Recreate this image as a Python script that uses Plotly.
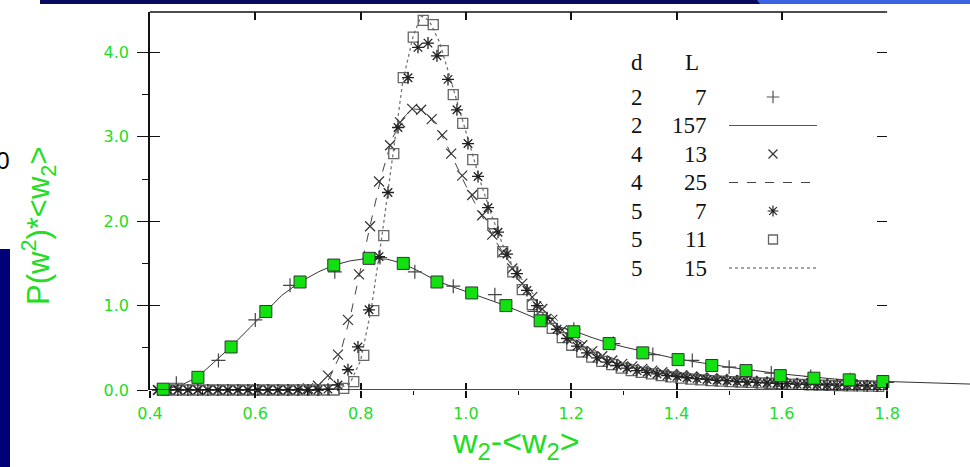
import plotly.graph_objects as go

# ---------------- data ----------------
# highlighted green squares (overlay on the d=2 curve)
green_x = [0.425, 0.491, 0.554, 0.620, 0.685, 0.749, 0.816, 0.881, 0.945, 1.011, 1.076,
           1.141, 1.205, 1.272, 1.336, 1.403, 1.467, 1.532, 1.597, 1.661, 1.728, 1.792]
green_y = [0.01, 0.15, 0.51, 0.93, 1.28, 1.48, 1.56, 1.50, 1.28, 1.15, 1.00,
           0.82, 0.69, 0.55, 0.44, 0.36, 0.29, 0.23, 0.17, 0.14, 0.12, 0.10]

# d=2, L=7  (+)
d2L7_x = [0.45, 0.53, 0.60, 0.666, 0.751, 0.837, 0.903, 0.976, 1.055, 1.13, 1.205,
          1.28, 1.355, 1.43, 1.50, 1.58, 1.655, 1.73, 1.80]
d2L7_y = [0.08, 0.35, 0.83, 1.24, 1.40, 1.57, 1.40, 1.23, 1.13, 0.93, 0.72,
          0.55, 0.42, 0.35, 0.27, 0.20, 0.16, 0.12, 0.09]

# d=2, L=157 (solid line)
d2L157_x = [0.40, 0.43, 0.46, 0.49, 0.52, 0.555, 0.59, 0.62, 0.65, 0.685, 0.72, 0.75, 0.78,
            0.815, 0.85, 0.88, 0.91, 0.945, 0.98, 1.01, 1.04, 1.075, 1.11, 1.14, 1.17, 1.205,
            1.24, 1.27, 1.30, 1.335, 1.37, 1.40, 1.45, 1.50, 1.55, 1.60, 1.65, 1.70, 1.75,
            1.80, 1.85, 1.90, 1.96]
d2L157_y = [0.0, 0.01, 0.06, 0.15, 0.32, 0.52, 0.74, 0.93, 1.12, 1.28, 1.40, 1.48, 1.53,
            1.56, 1.55, 1.50, 1.41, 1.29, 1.21, 1.15, 1.08, 1.00, 0.91, 0.83, 0.76, 0.70,
            0.62, 0.56, 0.51, 0.46, 0.41, 0.37, 0.32, 0.27, 0.23, 0.19, 0.16, 0.13, 0.11,
            0.10, 0.09, 0.08, 0.07]

# d=4, L=13 (x)
d4L13_x = [0.415, 0.434, 0.453, 0.472, 0.491, 0.510, 0.529, 0.548, 0.567, 0.586, 0.605,
           0.624, 0.643, 0.662, 0.681, 0.700, 0.719, 0.738, 0.757, 0.776, 0.797, 0.818,
           0.835, 0.856, 0.875, 0.898, 0.915, 0.935, 0.955, 0.972, 0.993, 1.012, 1.031,
           1.050, 1.069, 1.088, 1.107, 1.126, 1.145, 1.164, 1.183, 1.202, 1.221, 1.240,
           1.259, 1.278, 1.297, 1.316, 1.335, 1.354, 1.373, 1.392, 1.411, 1.430, 1.449,
           1.468, 1.487, 1.506, 1.525, 1.544, 1.563, 1.582, 1.601, 1.620, 1.639, 1.658,
           1.677, 1.696, 1.715, 1.734, 1.753, 1.772, 1.791]
d4L13_y = [0.0, 0.0, 0.0, 0.0, 0.0, 0.0, 0.0, 0.0, 0.0, 0.0, 0.0,
           0.0, 0.0, 0.0, 0.005, 0.02, 0.05, 0.17, 0.42, 0.83, 1.37, 1.94,
           2.47, 2.90, 3.17, 3.33, 3.32, 3.21, 3.02, 2.80, 2.54, 2.31, 2.07,
           1.84, 1.63, 1.44, 1.26, 1.10, 0.96, 0.83, 0.71, 0.61, 0.53, 0.46,
           0.40, 0.35, 0.31, 0.28, 0.25, 0.23, 0.21, 0.19, 0.175, 0.16, 0.15,
           0.14, 0.13, 0.12, 0.115, 0.11, 0.10, 0.095, 0.09, 0.085, 0.08, 0.075,
           0.07, 0.068, 0.065, 0.06, 0.058, 0.055, 0.05]

# d=4, L=25 (dashed line)
d4L25_x = [0.40, 0.60, 0.68, 0.72, 0.74, 0.76, 0.78, 0.80, 0.82, 0.84, 0.86, 0.88, 0.90,
           0.92, 0.94, 0.96, 0.98, 1.00, 1.02, 1.04, 1.06, 1.08, 1.10, 1.13, 1.16, 1.20,
           1.25, 1.30, 1.35, 1.40, 1.50, 1.60, 1.70, 1.80]
d4L25_y = [0.0, 0.0, 0.01, 0.05, 0.13, 0.40, 0.86, 1.45, 2.00, 2.55, 2.98, 3.22, 3.33,
           3.32, 3.16, 2.95, 2.68, 2.42, 2.18, 1.95, 1.73, 1.54, 1.36, 1.12, 0.91, 0.66,
           0.45, 0.32, 0.25, 0.20, 0.14, 0.10, 0.07, 0.05]

# d=5, L=7 (asterisk)
d5L7_x = [0.415, 0.434, 0.453, 0.472, 0.491, 0.510, 0.529, 0.548, 0.567, 0.586, 0.605,
          0.624, 0.643, 0.662, 0.681, 0.700, 0.719, 0.738, 0.757, 0.776, 0.795, 0.816,
          0.835, 0.852, 0.871, 0.890, 0.909, 0.928, 0.945, 0.966, 0.983, 1.004, 1.023,
          1.042, 1.061, 1.078, 1.097, 1.116, 1.135, 1.154, 1.173, 1.192, 1.211, 1.230,
          1.249, 1.268, 1.287, 1.306, 1.325, 1.344, 1.363, 1.382, 1.401, 1.420, 1.439,
          1.458, 1.477, 1.496, 1.515, 1.534, 1.553, 1.572, 1.591, 1.610, 1.629, 1.648,
          1.667, 1.686, 1.705, 1.724, 1.743, 1.762, 1.781]
d5L7_y = [0.0, 0.0, 0.0, 0.0, 0.0, 0.0, 0.0, 0.0, 0.0, 0.0, 0.0,
          0.0, 0.0, 0.0, 0.0, 0.0, 0.0, 0.01, 0.06, 0.24, 0.51, 0.95,
          1.58, 2.34, 3.11, 3.70, 4.06, 4.11, 3.96, 3.68, 3.32, 2.92, 2.53,
          2.16, 1.87, 1.61, 1.38, 1.18, 1.00, 0.85, 0.72, 0.61, 0.52, 0.44,
          0.38, 0.33, 0.29, 0.26, 0.23, 0.21, 0.19, 0.17, 0.16, 0.145, 0.135,
          0.125, 0.115, 0.11, 0.10, 0.095, 0.09, 0.085, 0.08, 0.075, 0.07, 0.068,
          0.065, 0.06, 0.058, 0.055, 0.052, 0.05, 0.048]

# d=5, L=11 (open square)
d5L11_x = [0.430, 0.449, 0.468, 0.486, 0.505, 0.524, 0.543, 0.562, 0.580, 0.599, 0.618,
           0.637, 0.656, 0.674, 0.693, 0.712, 0.731, 0.750, 0.768, 0.787, 0.806, 0.825,
           0.844, 0.863, 0.881, 0.900, 0.919, 0.938, 0.957, 0.976, 0.994, 1.013, 1.032,
           1.051, 1.070, 1.089, 1.107, 1.126, 1.145, 1.164, 1.183, 1.201, 1.220, 1.239,
           1.258, 1.277, 1.295, 1.314, 1.333, 1.352, 1.371, 1.389, 1.408, 1.427, 1.446,
           1.465, 1.483, 1.502, 1.521, 1.540, 1.559, 1.577, 1.596, 1.615, 1.634, 1.653,
           1.671, 1.690, 1.709, 1.728, 1.747, 1.765, 1.784]
d5L11_y = [0.0, 0.0, 0.0, 0.0, 0.0, 0.0, 0.0, 0.0, 0.0, 0.0, 0.0,
           0.0, 0.0, 0.0, 0.0, 0.0, 0.0, 0.0, 0.02, 0.10, 0.41, 0.94,
           1.83, 2.80, 3.70, 4.18, 4.38, 4.33, 4.02, 3.50, 3.16, 2.73, 2.33,
           1.97, 1.64, 1.40, 1.19, 1.01, 0.86, 0.73, 0.62, 0.53, 0.45, 0.39,
           0.34, 0.30, 0.26, 0.23, 0.21, 0.19, 0.17, 0.155, 0.14, 0.13, 0.12,
           0.11, 0.105, 0.10, 0.095, 0.09, 0.085, 0.08, 0.075, 0.07, 0.066, 0.062,
           0.058, 0.055, 0.052, 0.05, 0.048, 0.045, 0.043]

# d=5, L=15 (dotted line)
d5L15_x = [0.40, 0.70, 0.76, 0.78, 0.80, 0.82, 0.84, 0.86, 0.88, 0.90, 0.915, 0.93, 0.95,
           0.97, 0.99, 1.01, 1.03, 1.05, 1.07, 1.09, 1.12, 1.15, 1.20, 1.25, 1.30, 1.40,
           1.50, 1.60, 1.70, 1.80]
d5L15_y = [0.0, 0.0, 0.02, 0.08, 0.35, 0.95, 1.80, 2.75, 3.65, 4.20, 4.43, 4.38, 4.12,
           3.70, 3.28, 2.85, 2.42, 2.05, 1.72, 1.45, 1.12, 0.87, 0.56, 0.39, 0.29, 0.17,
           0.11, 0.08, 0.06, 0.045]

x_major = [0.4, 0.6, 0.8, 1.0, 1.2, 1.4, 1.6, 1.8]
x_minor = [0.5, 0.7, 0.9, 1.1, 1.3, 1.5, 1.7]
x_top = [0.6, 0.8, 1.0, 1.2, 1.4, 1.6]
y_major = [0, 1, 2, 3, 4]
y_minor = [0.5, 1.5, 2.5, 3.5]
y_right = [1, 2, 3, 4]

leg_d = ["2", "2", "4", "4", "5", "5", "5"]
leg_L = ["7", "157", "13", "25", "7", "11", "15"]

# ---------------- layout geometry ----------------
W, H = 970, 467
ML, MR, MT, MB = 150, 0, 12, 77
PW, PH = W - ML - MR, H - MT - MB
XR = [0.4, 0.4 + PW / 526.5]
YR = [0, PH / 84.4]


def px_x(px):
    return (px - ML) / PW


def px_y(py):
    return (H - MB - py) / PH


GREEN = "#22DD22"
INK = "#111111"

fig = go.Figure()

# lines first
fig.add_trace(go.Scatter(x=d2L157_x, y=d2L157_y, mode="lines",
                         line=dict(color="#333333", width=1)))
fig.add_trace(go.Scatter(x=d4L25_x, y=d4L25_y, mode="lines",
                         line=dict(color="#444444", width=1, dash="dash")))
fig.add_trace(go.Scatter(x=d5L15_x, y=d5L15_y, mode="lines",
                         line=dict(color="#777777", width=1.3, dash="dot")))
# markers
fig.add_trace(go.Scatter(x=d2L7_x, y=d2L7_y, mode="markers", cliponaxis=False,
                         marker=dict(symbol="cross-thin-open", size=10, color="#444444",
                                     line=dict(color="#444444", width=1.2))))
fig.add_trace(go.Scatter(x=d4L13_x, y=d4L13_y, mode="markers", cliponaxis=False,
                         marker=dict(symbol="x-thin-open", size=10, color="#333333",
                                     line=dict(color="#333333", width=1.2))))
fig.add_trace(go.Scatter(x=d5L11_x, y=d5L11_y, mode="markers", cliponaxis=False,
                         marker=dict(symbol="square-open", size=10, color="#666666",
                                     line=dict(color="#666666", width=1.3))))
fig.add_trace(go.Scatter(x=d5L7_x, y=d5L7_y, mode="markers", cliponaxis=False,
                         marker=dict(symbol="asterisk-open", size=10, color="#222222",
                                     line=dict(color="#222222", width=1.3))))
fig.add_trace(go.Scatter(x=green_x, y=green_y, mode="markers", cliponaxis=False,
                         marker=dict(symbol="square", size=12, color="#11E011",
                                     line=dict(color="#333333", width=1))))

# invisible anchors so that the overlay tick axes get drawn
for xa, ya in [("x2", "y"), ("x3", "y"), ("x", "y2"), ("x", "y3")]:
    fig.add_trace(go.Scatter(x=[XR[0]], y=[YR[0]], mode="markers", xaxis=xa, yaxis=ya,
                             marker=dict(size=1, opacity=0), hoverinfo="skip"))

# ---------------- custom legend (symbols drawn on a pixel-space overlay axis) -------
row_y0, row_dy = 97, 28.5
sym_x, line_x0, line_x1 = 773, 729, 817
leg_styles = [
    dict(kind="m", marker=dict(symbol="cross-thin-open", size=9, color="#555555",
                               line=dict(color="#555555", width=1.2))),
    dict(kind="l", line=dict(color="#555555", width=1.2)),
    dict(kind="m", marker=dict(symbol="x-thin-open", size=9, color="#333333",
                               line=dict(color="#333333", width=1.2))),
    dict(kind="l", line=dict(color="#444444", width=1, dash="dash")),
    dict(kind="m", marker=dict(symbol="asterisk-open", size=9, color="#222222",
                               line=dict(color="#222222", width=1.2))),
    dict(kind="m", marker=dict(symbol="square-open", size=9, color="#666666",
                               line=dict(color="#666666", width=1.3))),
    dict(kind="l", line=dict(color="#888888", width=1.3, dash="dot")),
]
for i, st in enumerate(leg_styles):
    ry = row_y0 + i * row_dy
    if st["kind"] == "m":
        fig.add_trace(go.Scatter(x=[sym_x], y=[ry], mode="markers", marker=st["marker"],
                                 xaxis="x4", yaxis="y4", cliponaxis=False))
    else:
        fig.add_trace(go.Scatter(x=[line_x0, line_x1], y=[ry, ry], mode="lines",
                                 line=st["line"], xaxis="x4", yaxis="y4"))

annotations = []
LEGFONT = dict(family="Liberation Serif, Times New Roman, serif", size=23, color=INK)
annotations.append(dict(x=px_x(637), y=px_y(63), xref="paper", yref="paper", text="d",
                        showarrow=False, font=LEGFONT, xanchor="center", yanchor="middle"))
annotations.append(dict(x=px_x(692), y=px_y(63), xref="paper", yref="paper", text="L",
                        showarrow=False, font=LEGFONT, xanchor="center", yanchor="middle"))
for i, (dv, lv) in enumerate(zip(leg_d, leg_L)):
    ry = row_y0 + i * row_dy
    annotations.append(dict(x=px_x(637), y=px_y(ry), xref="paper", yref="paper", text=dv,
                            showarrow=False, font=LEGFONT, xanchor="center", yanchor="middle"))
    annotations.append(dict(x=px_x(709), y=px_y(ry), xref="paper", yref="paper", text=lv,
                            showarrow=False, font=LEGFONT, xanchor="right", yanchor="middle"))

# axis titles
annotations.append(dict(x=px_x(516), y=px_y(467), xref="paper", yref="paper",
                        text="w<sub>2</sub>-&lt;w<sub>2</sub>&gt;", showarrow=False,
                        font=dict(family="Liberation Sans, Arial, sans-serif", size=34, color=GREEN),
                        xanchor="center", yanchor="bottom"))
annotations.append(dict(x=px_x(38), y=px_y(225), xref="paper", yref="paper",
                        text="P(w<sup>2</sup>)*&lt;w<sub>2</sub>&gt;", showarrow=False, textangle=-90,
                        font=dict(family="Liberation Sans, Arial, sans-serif", size=31, color=GREEN),
                        xanchor="center", yanchor="middle"))
# slide fragment at left edge
annotations.append(dict(x=px_x(12), y=px_y(160), xref="paper", yref="paper", text="00",
                        showarrow=False, font=dict(family="Liberation Sans, Arial", size=24, color="#000000"),
                        xanchor="right", yanchor="middle"))

shapes = [
    # bottom axis line (0.4 .. 1.8)
    dict(type="line", xref="x", yref="y", x0=0.4, x1=1.8, y0=0, y1=0,
         line=dict(color=INK, width=1.6)),
    # top frame line
    dict(type="line", xref="x", yref="paper", x0=0.4, x1=1.8, y0=1, y1=1,
         line=dict(color=INK, width=1.4)),
    # slide decoration: top bar and left bar
    dict(type="rect", xref="paper", yref="paper", x0=px_x(40), x1=px_x(760), y0=px_y(4), y1=px_y(0),
         fillcolor="#0B0B5E", line=dict(width=0)),
    dict(type="path", xref="paper", yref="paper",
         path=f"M {px_x(760)} {px_y(4)} L {px_x(757)} {px_y(0)} L 1 {px_y(0)} L 1 {px_y(4)} Z",
         fillcolor="#3A64E4", line=dict(width=0)),
    dict(type="rect", xref="paper", yref="paper", x0=px_x(0), x1=px_x(10), y0=px_y(467), y1=px_y(249),
         fillcolor="#000078", line=dict(width=0)),
]

TICKFONT = dict(family="DejaVu Sans, Verdana, sans-serif", size=16, color=GREEN)

fig.update_layout(
    width=W, height=H,
    margin=dict(l=ML, r=MR, t=MT, b=MB),
    paper_bgcolor="white", plot_bgcolor="white",
    showlegend=False,
    annotations=annotations,
    shapes=shapes,
    xaxis=dict(range=XR, showgrid=False, zeroline=False, showline=False,
               tickvals=x_major, ticktext=[f"{v:.1f}" for v in x_major],
               ticks="outside", ticklen=7, tickwidth=1.6, tickcolor=INK,
               tickfont=TICKFONT, ticklabelstandoff=2,
               minor=dict(tickvals=x_minor, ticks="outside", ticklen=4, tickwidth=1.4,
                          tickcolor=INK, showgrid=False)),
    xaxis2=dict(range=XR, overlaying="x", anchor="y", side="bottom", showgrid=False,
                zeroline=False, showline=False, tickvals=x_major, ticks="inside", ticklen=7,
                tickwidth=1.6, tickcolor=INK, showticklabels=False),
    xaxis3=dict(range=XR, overlaying="x", anchor="y", side="top", showgrid=False,
                zeroline=False, showline=False, tickvals=x_top, ticks="inside", ticklen=8,
                tickwidth=1.6, tickcolor=INK, showticklabels=False),
    xaxis4=dict(range=[ML, W - MR], overlaying="x", anchor="y4", visible=False),
    yaxis=dict(range=YR, showgrid=False, zeroline=False, showline=True, linecolor=INK,
               linewidth=1.6, tickvals=y_major, ticktext=[f"{v:.1f}" for v in y_major],
               ticks="outside", ticklen=11, tickwidth=1.4, tickcolor=INK,
               tickfont=TICKFONT, ticklabelstandoff=5,
               minor=dict(tickvals=y_minor, ticks="outside", ticklen=6, tickwidth=1.4,
                          tickcolor=INK, showgrid=False)),
    yaxis2=dict(range=YR, overlaying="y", anchor="x", side="left", showgrid=False,
                zeroline=False, showline=False, tickvals=y_major, ticks="inside", ticklen=10,
                tickwidth=1.4, tickcolor=INK, showticklabels=False),
    yaxis3=dict(range=YR, overlaying="y", anchor="free", position=px_x(887), side="right",
                showgrid=False, zeroline=False, showline=False, tickvals=y_right,
                ticks="inside", ticklen=10, tickwidth=1.4, tickcolor=INK, showticklabels=False),
    yaxis4=dict(range=[H - MB, MT], overlaying="y", anchor="x4", visible=False),
)

fig.write_html("out.html", config={"displayModeBar": False},
               post_script="document.body.style.margin='0';document.body.style.overflow='hidden';")
